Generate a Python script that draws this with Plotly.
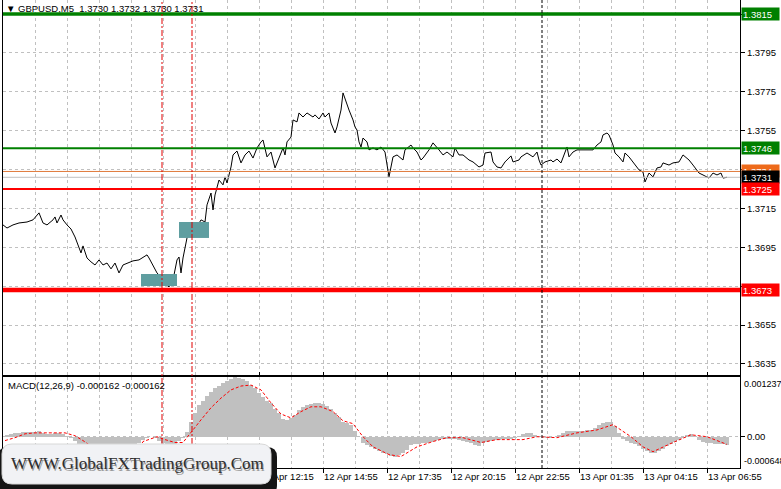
import plotly.graph_objects as go

# ---------------- data ----------------
# GBPUSD M5 close line: bar index (5-minute bars) and price
price_bar = [0,2,5,8,12,15,18,20,22,25,26,27,29,30,32,34,36,38,39,40,42,44,46,48,50,52,54,56,58,60,
             62,65,68,72,73,75,77,79,80,82,83,85,87,88,89,90,92,94,97,99,101,102,104,105,106,108,110,111,112,114,
             115,117,119,121,123,125,127,129,130,132,134,136,138,140,141,142,144,145,147,148,150,152,155,156,158,160,161,163,164,166,
             167,169,170,172,173,175,176,177,178,179,180,182,183,185,187,189,191,193,195,197,200,201,204,205,207,209,210,213,215,218,
             220,222,225,226,228,230,233,235,238,240,241,244,245,247,249,251,254,255,258,259,262,265,267,268,269,271,274,275,277,279,
             280,282,283,285,287,290,295,297,299,300,302,303,305,306,308,310,311,313,315,318,320,321,323,325,327,329,330,333,335,338,
             340,343,345,348,350,353,355,357,359,360,362]
price_val = [1.37065,1.37049,1.37065,1.37075,1.37080,1.37091,1.37127,1.37075,1.37065,1.37091,1.37106,1.37075,1.37116,1.37091,1.37065,1.37044,1.37003,1.36952,1.36921,1.36957,
             1.36895,1.36875,1.36859,1.36885,1.36859,1.36869,1.36839,1.36869,1.36818,1.36859,1.36869,1.36880,1.36885,1.36911,1.36895,1.36859,1.36818,1.36797,1.36772,1.36756,
             1.36746,1.36782,1.36885,1.36900,1.36818,1.36895,1.36998,1.37039,1.37055,1.37091,1.37080,1.37168,1.37229,1.37142,1.37219,1.37296,1.37271,1.37312,1.37281,1.37363,
             1.37425,1.37445,1.37384,1.37425,1.37445,1.37409,1.37461,1.37492,1.37502,1.37415,1.37440,1.37358,1.37415,1.37461,1.37425,1.37492,1.37517,1.37605,1.37595,1.37641,
             1.37620,1.37641,1.37620,1.37631,1.37610,1.37641,1.37620,1.37641,1.37589,1.37538,1.37569,1.37656,1.37744,1.37682,1.37656,1.37605,1.37569,1.37553,1.37492,1.37466,
             1.37512,1.37492,1.37451,1.37461,1.37451,1.37466,1.37440,1.37312,1.37415,1.37425,1.37399,1.37451,1.37476,1.37461,1.37440,1.37399,1.37409,1.37451,1.37487,1.37451,
             1.37425,1.37440,1.37415,1.37461,1.37425,1.37425,1.37399,1.37389,1.37363,1.37373,1.37435,1.37440,1.37389,1.37363,1.37358,1.37389,1.37420,1.37389,1.37399,1.37415,
             1.37435,1.37415,1.37440,1.37399,1.37373,1.37389,1.37399,1.37389,1.37404,1.37384,1.37415,1.37466,1.37415,1.37440,1.37451,1.37451,1.37451,1.37476,1.37492,1.37528,
             1.37538,1.37528,1.37476,1.37435,1.37415,1.37389,1.37435,1.37415,1.37389,1.37348,1.37337,1.37286,1.37332,1.37312,1.37358,1.37363,1.37384,1.37373,1.37384,1.37389,
             1.37425,1.37399,1.37373,1.37332,1.37322,1.37306,1.37332,1.37322,1.37332,1.37306,1.37310]

# MACD(12,26,9) main line (histogram), one reading every 2 bars
macd_bar = list(range(0, 364, 2))
macd_val = [0.00002,0.00004,0.00006,0.00008,0.00008,0.0001,0.0001,0.0001,0.0001,0.00012,
            0.00008,0.00006,0.00006,0.00008,0.00008,0.00006,0.00002,-0.00002,-0.00008,-0.00016,
            -0.00025,-0.00035,-0.00045,-0.00053,-0.00058,-0.00062,-0.000648,-0.00063,-0.00058,-0.00052,
            -0.00045,-0.00036,-0.00028,-0.0002,-0.00013,-0.00007,-0.00002,0.0,-0.00003,-0.00008,
            -0.00013,-0.00018,-0.0002,-0.00016,-0.00008,-0.00003,0.0001,0.0003,0.0005,0.00065,
            0.00075,0.00085,0.00093,0.001,0.00106,0.00111,0.00116,0.0012,0.001237,0.00122,
            0.0012,0.00115,0.00108,0.001,0.0009,0.00083,0.00075,0.0007,0.00058,0.0005,
            0.00036,0.00035,0.00038,0.00045,0.00055,0.00062,0.00066,0.00068,0.0007,0.0007,
            0.00068,0.00064,0.00058,0.0005,0.0004,0.0003,0.00028,0.00025,0.00012,0.0,
            -0.00012,-0.00018,-0.00022,-0.00026,-0.0003,-0.00033,-0.00036,-0.0004,-0.00041,-0.00038,
            -0.00034,-0.00028,-0.00018,-0.00016,-0.00016,-0.00014,-0.00012,-0.0001,-0.00008,-0.00006,
            -0.00004,-0.00004,-0.00004,-0.00005,-0.00006,-0.00008,-0.0001,-0.00014,-0.00018,-0.0002,
            -0.00014,-0.0001,-0.00008,-0.00006,-0.00006,-0.00005,-0.00004,-0.00004,-0.00002,0.00002,
            0.00005,0.00007,0.00008,0.00004,0.00001,0.0,-0.00002,-0.00002,0.0,0.00004,
            0.00008,0.00011,0.00012,0.00012,0.00012,0.00012,0.00013,0.00014,0.00018,0.00024,
            0.00029,0.00031,0.0003,0.00022,0.00008,-0.00005,-0.00008,-0.00012,-0.00015,-0.0002,
            -0.00026,-0.0003,-0.00033,-0.00033,-0.0003,-0.00025,-0.0002,-0.00015,-0.0001,-0.00006,
            -0.00002,0.00003,0.00006,0.00002,-0.00006,-0.0001,-0.00013,-0.00014,-0.00015,-0.00016,
            -0.00016,-0.000162]

# MACD signal line
signal_bar = [1,6,11,16,24,31,36,40,46,54,61,66,70,74,77,81,86,90,94,99,104,109,114,119,124,129,134,139,144,149,
              154,159,165,170,175,180,185,193,199,207,215,222,230,239,247,260,267,277,287,297,305,314,320,325,335,344,352,359,362]
signal_val = [-0.00008,-0.00002,0.00006,0.00008,0.00008,0.00008,0.00002,-0.00008,-0.00025,-0.00045,-0.00052,-0.0004,-0.0001,-0.00004,0.0,
              -0.00006,-0.00012,-0.00012,0.0001,0.00035,0.0006,0.0008,0.00097,0.00105,0.00107,0.00097,0.0007,0.00047,0.00039,0.00052,
              0.00062,0.00062,0.00052,0.00033,0.00027,0.0,-0.00021,-0.00037,-0.00041,-0.00021,-0.0001,-0.00002,-0.00002,-0.00012,-0.00006,
              -0.00006,0.0,-0.00002,0.00008,0.00014,0.00025,0.0,-0.00021,-0.00031,-0.00012,0.00004,0.0,-0.00012,-0.00016]

# time axis labels (earlier labels are hidden under the watermark in the reference)
tick_bars = [128, 160, 192, 224, 256, 288, 320, 352]
tick_text = ["12 Apr 12:15", "12 Apr 14:55", "12 Apr 17:35", "12 Apr 20:15", "12 Apr 22:55",
             "13 Apr 01:35", "13 Apr 04:15", "13 Apr 06:55"]
grid_bars = [16, 32, 48, 64, 80, 96, 112, 144, 176, 208, 240, 272, 304, 336]
price_ticks = [1.3635, 1.3655, 1.3675, 1.3695, 1.3715, 1.3735, 1.3755, 1.3775, 1.3795, 1.3815]
price_tick_text = ["1.3635", "1.3655", "", "1.3695", "1.3715", "", "1.3755", "1.3775", "1.3795", ""]

# horizontal levels
levels = [1.3815, 1.3746, 1.3725, 1.3673]
level_colors = ["#008000", "#008000", "#ff0000", "#ff0000"]
level_widths = [3.5, 2, 2, 4.5]
bid_line = 1.3731
ask_line = 1.3734

# zones (bar start, bar end, price low, price high)
zones = [(69, 87, 1.36751, 1.36813), (88, 103, 1.36998, 1.37080)]
red_marks = [79.5, 94.5]
black_mark = 269.5

title_text = "\u25bc GBPUSD,M5  1.3730 1.3732 1.3730 1.3731"
macd_text = "MACD(12,26,9) -0.000162 -0.000162"
macd_top, macd_bottom = 0.001237, -0.000648

# ---------------- layout geometry ----------------
W, H = 781, 489
L, R, T, B = 3, 41, 0, 21
PW, PH = W - L - R, H - T - B
y_top, y_bot = 1.38222, 1.36293
x_lo, x_hi = 0, 368.5

def px(p):
    return (p - L) / PW

def py(q):
    return (PH - (q - T)) / PH

FONT = "Liberation Sans, Arial, sans-serif"
GRID = "#c0c0c0"

fig = go.Figure()

fig.add_trace(go.Scatter(x=[1.5], y=[y_top - 0.00052], mode="text", text=[title_text],
                         textposition="middle right", textfont=dict(size=9.5, color="black", family=FONT),
                         xaxis="x", yaxis="y", hoverinfo="skip", showlegend=False))

fig.add_trace(go.Scatter(x=price_bar, y=price_val, mode="lines", line=dict(color="black", width=1),
                         xaxis="x", yaxis="y", hoverinfo="skip", showlegend=False))

fig.add_trace(go.Bar(x=macd_bar, y=macd_val, width=2, marker=dict(color="#c0c0c0", line=dict(width=0)),
                     xaxis="x", yaxis="y2", hoverinfo="skip", showlegend=False))
fig.add_trace(go.Scatter(x=signal_bar, y=signal_val, mode="lines",
                         line=dict(color="#ff0000", width=1, dash="3px,2px"),
                         xaxis="x", yaxis="y2", hoverinfo="skip", showlegend=False))

shapes = []
for (x0, x1, lo, hi) in zones:
    shapes.append(dict(type="rect", xref="x", yref="y", x0=x0, x1=x1, y0=lo, y1=hi,
                       fillcolor="#5f9ea0", line=dict(width=0), layer="above"))
shapes.append(dict(type="line", xref="paper", yref="y", x0=0, x1=1, y0=ask_line, y1=ask_line,
                   line=dict(color="#e07a3a", width=1), layer="above"))
shapes.append(dict(type="line", xref="paper", yref="y", x0=0, x1=1, y0=bid_line, y1=bid_line,
                   line=dict(color="#c0c0c0", width=1), layer="above"))
for lv, c, w in zip(levels, level_colors, level_widths):
    shapes.append(dict(type="line", xref="paper", yref="y", x0=0, x1=1, y0=lv, y1=lv,
                       line=dict(color=c, width=w), layer="above"))
for m in red_marks:
    shapes.append(dict(type="line", xref="x", yref="paper", x0=m, x1=m, y0=0, y1=1,
                       line=dict(color="#e00000", width=1, dash="6px,2px,2px,2px"), layer="above"))
shapes.append(dict(type="line", xref="x", yref="paper", x0=black_mark, x1=black_mark, y0=0, y1=1,
                   line=dict(color="black", width=1, dash="3px,2px"), layer="above"))

# watermark box (rounded) with dark shadow
def rrect(x0, y0, x1, y1, r):
    pts = [("M", x0 + r, y0), ("L", x1 - r, y0), ("Q", x1, y0, x1, y0 + r), ("L", x1, y1 - r),
           ("Q", x1, y1, x1 - r, y1), ("L", x0 + r, y1), ("Q", x0, y1, x0, y1 - r), ("L", x0, y0 + r),
           ("Q", x0, y0, x0 + r, y0)]
    s = ""
    for p in pts:
        cmd = p[0]
        coords = p[1:]
        s += cmd + " " + " ".join(f"{px(coords[i]):.5f},{py(coords[i+1]):.5f}" for i in range(0, len(coords), 2)) + " "
    return s + "Z"

shapes.append(dict(type="path", xref="paper", yref="paper", path=rrect(-2, 447, 277, 495, 10),
                   fillcolor="#151515", line=dict(width=0), layer="above"))
shapes.append(dict(type="path", xref="paper", yref="paper", path=rrect(2, 444, 271, 484, 10),
                   fillcolor="#f1f2f5", line=dict(color="#d8d8d8", width=1), layer="above"))

ann = []
# right-side level labels
def lab(v, txt, bg, ref="y"):
    return dict(xref="paper", yref=ref, x=1, y=v, xanchor="left", yanchor="middle", xshift=1,
                text=txt, showarrow=False, bgcolor=bg, font=dict(color="white", size=9.5, family=FONT),
                width=35, height=10, align="left", borderpad=1)

ann.append(lab(levels[0], "1.3815", "#008000"))
ann.append(lab(levels[1], "1.3746", "#008000"))
ann.append(lab(ask_line, "1.3734", "#ee6a1a"))
ann.append(lab(bid_line, "1.3731", "#000000"))
ann.append(lab(levels[2], "1.3725", "#ff0000"))
ann.append(lab(levels[3], "1.3673", "#ff0000"))

ann.append(dict(xref="paper", yref="y2", x=1, y=macd_top, xanchor="left", yanchor="top", xshift=2,
                text="0.001237", showarrow=False, font=dict(size=9, color="black", family=FONT)))
ann.append(dict(xref="paper", yref="y2", x=1, y=macd_bottom, xanchor="left", yanchor="bottom", xshift=2,
                text="-0.000648", showarrow=False, font=dict(size=9, color="black", family=FONT)))
ann.append(dict(xref="paper", yref="paper", x=px(6), y=py(385), xanchor="left", yanchor="middle",
                text=macd_text, showarrow=False, font=dict(size=9.5, color="black", family=FONT)))

# watermark text with soft shadow
wm = "WWW.GlobalFXTradingGroup.Com"
ann.append(dict(xref="paper", yref="paper", x=px(137), y=py(463), xanchor="center", yanchor="middle",
                xshift=1.5, yshift=-2, text=wm, showarrow=False,
                font=dict(size=17, color="#9a9a9a", family="Liberation Serif, Times New Roman, serif")))
ann.append(dict(xref="paper", yref="paper", x=px(137), y=py(463), xanchor="center", yanchor="middle",
                text=wm, showarrow=False,
                font=dict(size=17, color="#2f2f2f", family="Liberation Serif, Times New Roman, serif")))

main_dom = [py(375), 1]
macd_dom = [0, py(377)]

fig.update_layout(
    width=W, height=H, margin=dict(l=L, r=R, t=T, b=B, pad=0, autoexpand=False),
    paper_bgcolor="white", plot_bgcolor="white",
    font=dict(family=FONT, size=9, color="black"),
    showlegend=False, bargap=0,
    shapes=shapes, annotations=ann,
    xaxis=dict(anchor="y2", domain=[0, 1], range=[x_lo, x_hi], tickmode="array",
               tickvals=tick_bars, ticktext=tick_text, ticks="outside", ticklen=4, tickcolor="black",
               ticklabelposition="outside right", showgrid=True, gridcolor=GRID, griddash="3px,3px",
               gridwidth=1, zeroline=False, showline=True, linecolor="black", linewidth=1, mirror="all",
               tickfont=dict(size=9.5, color="black", family=FONT), automargin=False,
               minor=dict(tickvals=grid_bars, showgrid=True, gridcolor=GRID, griddash="3px,3px", ticks="")),
    yaxis=dict(domain=main_dom, anchor="x", side="right", range=[y_bot, y_top], tickmode="array",
               tickvals=price_ticks, ticktext=price_tick_text, ticks="outside",
               ticklen=4, tickcolor="black", showgrid=True, gridcolor=GRID, griddash="3px,3px",
               zeroline=False, showline=True, linecolor="black", linewidth=1, mirror=True,
               tickfont=dict(size=9.5, color="black", family=FONT), automargin=False),
    yaxis2=dict(domain=macd_dom, anchor="x", side="right", range=[macd_bottom, macd_top],
                tickmode="array", tickvals=[0], ticktext=["0.00"], ticks="outside", ticklen=4,
                tickcolor="black", showgrid=True, gridcolor=GRID, griddash="3px,3px", zeroline=False,
                showline=True, linecolor="black", linewidth=1, mirror=True,
                tickfont=dict(size=9.5, color="black", family=FONT), automargin=False),
)

assert len(price_bar) == len(price_val)
assert len(macd_bar) == len(macd_val)
assert len(signal_bar) == len(signal_val)

fig.write_html("out.html", config={"displayModeBar": False, "staticPlot": True},
               post_script="document.body.style.margin='0';document.body.style.padding='0';"
                           "document.body.style.overflow='hidden';")
